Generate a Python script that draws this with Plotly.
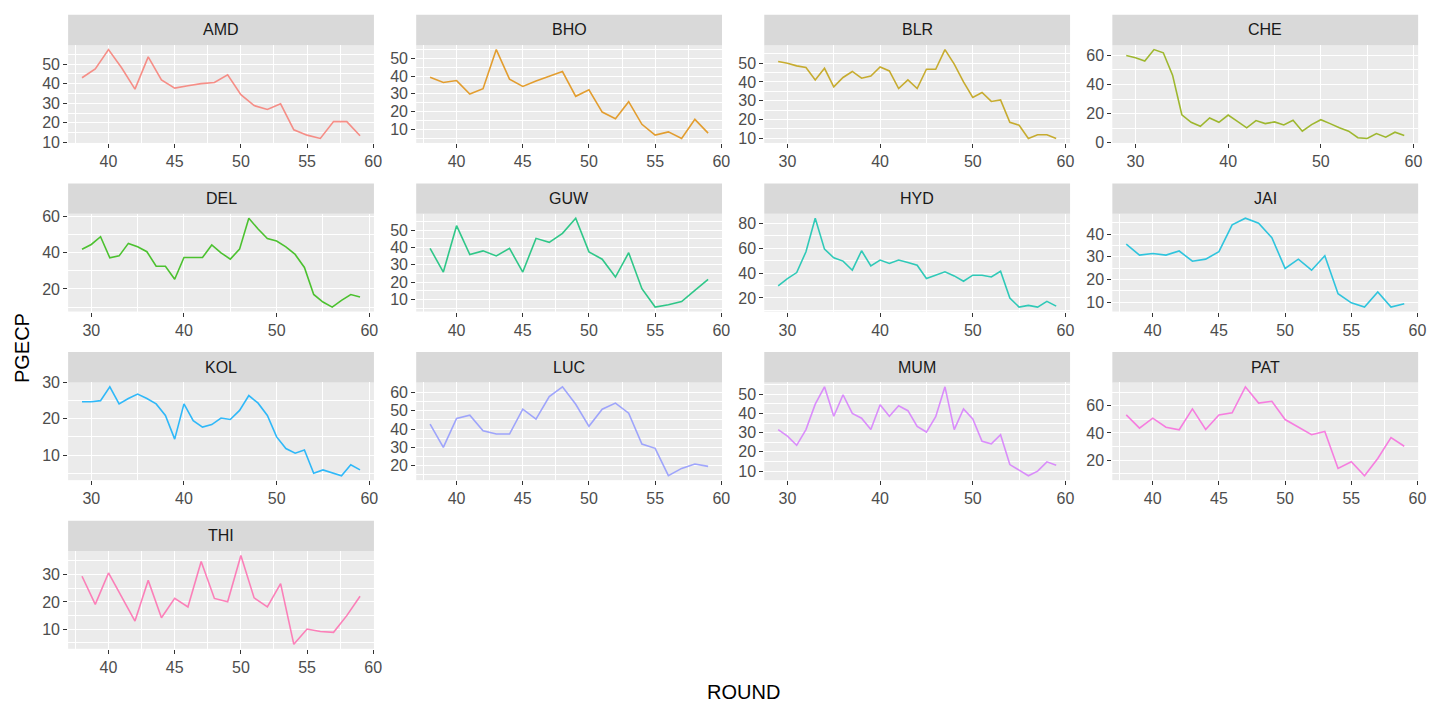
import plotly.graph_objects as go

# ---------------- data ----------------
CITIES = ["AMD", "BHO", "BLR", "CHE", "DEL", "GUW", "HYD", "JAI",
          "KOL", "LUC", "MUM", "PAT", "THI"]

ROUNDS_SHORT = list(range(38, 60))   # 38..59
ROUNDS_LONG = list(range(29, 60))    # 29..59

AMD = [43, 47.5, 57.4, 48, 37.2, 53.7, 41.9, 37.7, 38.9, 40, 40.6, 44.5, 34.4,
       28.8, 26.8, 29.7, 16.4, 13.7, 12, 20.6, 20.6, 13.4]
BHO = [39.4, 36.4, 37.5, 29.9, 32.9, 55, 38.3, 34.2, 37.3, 39.8, 42.6, 28.6,
       32.3, 19.7, 16, 25.6, 12.8, 6.7, 8.5, 4.8, 15.6, 7.8]
BLR = [50.9, 50, 48.6, 47.7, 41.1, 47.3, 37.4, 42.4, 45.6, 42, 43.2, 48, 45.9,
       36.5, 41.1, 36.5, 46.8, 46.8, 57.3, 49.5, 40, 31.7, 34.4, 29.6, 30.4,
       18.4, 16.9, 9.8, 11.8, 11.8, 9.8]
CHE = [60, 58.4, 56.1, 64, 61.8, 46.4, 19.2, 14, 11.3, 17, 14, 19, 14.7, 10.2,
       15.2, 13.1, 14.3, 12.2, 15.4, 7.9, 12.4, 15.8, 13.1, 10.2, 7.9, 3.4, 2.9,
       6.3, 3.8, 7.2, 5]
DEL = [42, 44.6, 48.9, 37.2, 38.3, 45.2, 43.3, 40.6, 32.6, 32.6, 25.4, 37.4,
       37.4, 37.4, 44.3, 40, 36.5, 42, 59.1, 53.1, 47.9, 46.5, 43.3, 39.1, 31.9,
       17, 12.8, 10, 13.7, 16.9, 15.6]
GUW = [39.4, 25.8, 52.5, 35.9, 38, 35.1, 39.4, 25.8, 45.2, 42.9, 48.1, 56.8,
       37.4, 33.2, 22.9, 36.9, 16.2, 5.6, 6.9, 8.8, 15.2, 21.6]
HYD = [29.7, 35.6, 40.4, 57.1, 84, 59.2, 52.3, 49.6, 42.3, 57.9, 45.8, 50.4,
       47.7, 50.4, 48.5, 46.3, 35.6, 38.3, 41, 37.7, 33.4, 38.3, 38.3, 36.9,
       41.5, 20, 12.7, 14.1, 12.7, 17.3, 13.5]
JAI = [35.6, 30.8, 31.5, 30.8, 32.6, 28.1, 29, 32.3, 44.2, 47.1, 44.9, 38.5,
       24.9, 29, 24.1, 30.5, 13.7, 9.7, 7.8, 14.5, 7.8, 9.3]
KOL = [24.7, 24.7, 25, 28.8, 24.1, 25.6, 26.8, 25.6, 24.1, 20.9, 14.4, 24.1,
       19.5, 17.7, 18.4, 20.2, 19.8, 22.3, 26.4, 24.3, 20.9, 15, 11.8, 10.5,
       11.4, 5, 5.9, 5.2, 4.3, 7.3, 5.9]
LUC = [42.7, 30, 45.8, 47.6, 39.1, 37.3, 37.3, 50.9, 45.5, 57.8, 63.1, 53.6,
       41.5, 50.9, 54.2, 48.7, 31.8, 29.5, 14.5, 18.5, 20.9, 19.6]
MUM = [31.6, 28.2, 23.4, 31.6, 44.8, 53.8, 38.5, 49.7, 40, 37.5, 31.6, 44.5,
       38.5, 44, 41.4, 33.2, 30.3, 38.3, 53.8, 31.6, 42.3, 37.1, 25.5, 24.2,
       28.9, 13.4, 10.5, 7.6, 10, 14.8, 13.1]
PAT = [53.2, 43.5, 50.8, 44.2, 42.3, 57.6, 42.5, 53.2, 54.7, 73.8, 61.9, 63.2,
       49.8, 44.2, 38.7, 41.1, 13.9, 18.8, 8.6, 21.2, 36.5, 30.2]
THI = [29.4, 19.1, 30.6, 21.9, 13, 27.9, 14.2, 21.3, 18.2, 34.8, 21.3, 20.1,
       37, 21.5, 18.2, 26.7, 4.5, 10.1, 9.2, 8.9, 15, 22.1]

SERIES = {"AMD": AMD, "BHO": BHO, "BLR": BLR, "CHE": CHE, "DEL": DEL,
          "GUW": GUW, "HYD": HYD, "JAI": JAI, "KOL": KOL, "LUC": LUC,
          "MUM": MUM, "PAT": PAT, "THI": THI}

# ---------------- style ----------------
COLORS = ["#F8766D", "#E18A00", "#BE9C00", "#8CAB00", "#24B700", "#00BE70",
          "#00C1AB", "#00BBDA", "#00ACFC", "#8B93FF", "#D575FE", "#F962DD",
          "#FF65AC"]
Y_DTICK = {"AMD": 10, "BHO": 10, "BLR": 10, "CHE": 20, "DEL": 20, "GUW": 10,
           "HYD": 20, "JAI": 10, "KOL": 10, "LUC": 10, "MUM": 10, "PAT": 20,
           "THI": 10}

W, H = 1452, 713
FONT = "Liberation Sans, Arial, sans-serif"
COL_LEFT0, COL_PITCH, PANEL_W = 68.5, 350, 307.5
ROW_TOP0, ROW_PITCH, STRIP_H, PANEL_BOTTOM_OFF = 7, 172.5, 31, 131


def expand(lo, hi, f=0.05):
    d = (hi - lo) * f
    return [lo - d, hi + d]


fig = go.Figure()
layout = dict(
    width=W, height=H, autosize=False, margin=dict(l=0, r=0, t=0, b=0, pad=0),
    paper_bgcolor="white", plot_bgcolor="#EBEBEB",
    showlegend=False, font=dict(family=FONT, color="#4D4D4D", size=16),
    shapes=[], annotations=[],
)

for i, city in enumerate(CITIES):
    r, c = divmod(i, 4)
    vals = SERIES[city]
    xs = ROUNDS_LONG if len(vals) == len(ROUNDS_LONG) else ROUNDS_SHORT
    xa = "xaxis" if i == 0 else f"xaxis{i+1}"
    ya = "yaxis" if i == 0 else f"yaxis{i+1}"
    xr = "x" if i == 0 else f"x{i+1}"
    yr = "y" if i == 0 else f"y{i+1}"

    fig.add_trace(go.Scatter(x=xs, y=vals, mode="lines", xaxis=xr, yaxis=yr,
                             line=dict(color=COLORS[i], width=1.6),
                             opacity=0.8, hoverinfo="x+y", name=city))

    left = COL_LEFT0 + c * COL_PITCH
    right = left + PANEL_W
    top = ROW_TOP0 + r * ROW_PITCH
    ptop = top + STRIP_H
    pbot = top + PANEL_BOTTOM_OFF

    xdtick = 5 if xs[0] >= 35 else 10
    ydt = Y_DTICK[city]
    layout[xa] = dict(
        domain=[left / W, right / W], anchor=yr,
        range=expand(min(xs), max(xs)), tick0=0, dtick=xdtick,
        showgrid=True, gridcolor="white", gridwidth=1.4, zeroline=False,
        ticks="outside", ticklen=4, tickcolor="#333333", tickwidth=1,
        tickfont=dict(size=16, color="#4D4D4D", family=FONT),
        minor=dict(tick0=0, dtick=xdtick / 2, showgrid=True,
                   gridcolor="white", gridwidth=0.6, ticks=""),
        showline=False, fixedrange=True,
    )
    layout[ya] = dict(
        domain=[1 - pbot / H, 1 - ptop / H], anchor=xr,
        range=expand(min(vals), max(vals)), tick0=0, dtick=ydt,
        showgrid=True, gridcolor="white", gridwidth=1.4, zeroline=False,
        ticks="outside", ticklen=4, tickcolor="#333333", tickwidth=1,
        tickfont=dict(size=16, color="#4D4D4D", family=FONT),
        minor=dict(tick0=0, dtick=ydt / 2, showgrid=True,
                   gridcolor="white", gridwidth=0.6, ticks=""),
        showline=False, fixedrange=True,
    )
    # facet strip
    layout["shapes"].append(dict(
        type="rect", xref="paper", yref="paper",
        x0=left / W, x1=right / W, y0=1 - ptop / H, y1=1 - top / H,
        fillcolor="#D9D9D9", line=dict(width=0), layer="below"))
    layout["annotations"].append(dict(
        xref="paper", yref="paper", x=(left + right) / 2 / W,
        y=1 - (top + STRIP_H / 2) / H, text=city, showarrow=False,
        font=dict(size=16, color="#1A1A1A", family=FONT),
        xanchor="center", yanchor="middle"))

# axis titles
layout["annotations"].append(dict(
    xref="paper", yref="paper",
    x=(COL_LEFT0 + 3 * COL_PITCH + PANEL_W + COL_LEFT0) / 2 / W,
    y=1 - 700 / H, text="ROUND", showarrow=False,
    font=dict(size=20, color="black", family=FONT),
    xanchor="center", yanchor="middle"))
layout["annotations"].append(dict(
    xref="paper", yref="paper", x=22 / W, y=1 - 348 / H, text="PGECP",
    showarrow=False, textangle=-90,
    font=dict(size=20, color="black", family=FONT),
    xanchor="center", yanchor="middle"))

fig.update_layout(**layout)

POST = (
    "document.documentElement.style.margin='0';"
    "document.body.style.margin='0';document.body.style.padding='0';"
    "document.body.style.overflow='hidden';"
    "var gd=document.getElementById('{plot_id}');"
    "gd.style.width='1452px';gd.style.height='713px';"
    "Plotly.relayout(gd,{width:1452,height:713});"
)
fig.write_html("out.html", config={"displayModeBar": False, "responsive": False},
               post_script=POST)
